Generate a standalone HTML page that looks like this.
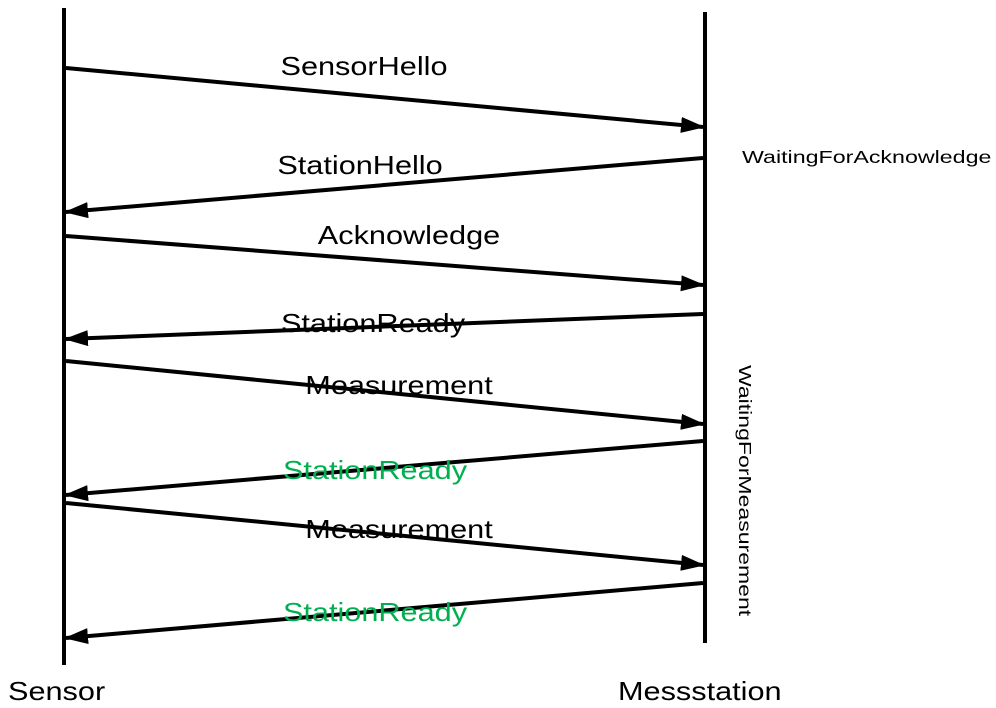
<!DOCTYPE html>
<html><head><meta charset="utf-8"><style>
body{margin:0;background:#fff;}
svg{display:block;font-family:"Liberation Sans",sans-serif;}
</style></head><body>
<svg id="chart" width="996" height="708">
<defs><marker id="ah" markerWidth="24" markerHeight="16" refX="22" refY="8" orient="auto" markerUnits="userSpaceOnUse"><path d="M0,0 L24,8 L0,16 Z" fill="#000"/></marker></defs>
<line x1="64" y1="8" x2="64" y2="665" stroke="#000" stroke-width="4"/>
<line x1="705" y1="12" x2="705" y2="643" stroke="#000" stroke-width="4"/>
<text transform="translate(8,700) scale(1.18,1)" font-size="26">Sensor</text>
<text transform="translate(618,700) scale(1.18,1)" font-size="26">Messstation</text>
<text transform="translate(742,163) scale(1.29,1)" font-size="18">WaitingForAcknowledge</text>
<text transform="translate(739,365) rotate(90) scale(1.28,1)" font-size="18">WaitingForMeasurement</text>
<g id="msgs"></g>
</svg>
<script>
const labels=["SensorHello","StationHello","Acknowledge","StationReady","Measurement","StationReady","Measurement","StationReady"];
const directions=["right","left","right","left","right","left","right","left"];
const startY=[68,158,236,314,361,441,503,583];
const endY=[127,212,285,339,424,495,565,638];
const labelY=[75,174,244,332,394,479,538,621];
const colors=["#000","#000","#000","#000","#000","#00b050","#000","#00b050"];
const g=document.getElementById('msgs');
const NS="http://www.w3.org/2000/svg";
const xS=66,xM=703;
for(let i=0;i<labels.length;i++){
  const r=directions[i]==="right";
  const l=document.createElementNS(NS,'line');
  l.setAttribute('x1',r?xS:xM);l.setAttribute('y1',startY[i]);
  l.setAttribute('x2',r?xM:xS);l.setAttribute('y2',endY[i]);
  l.setAttribute('stroke','#000');l.setAttribute('stroke-width','4');
  l.setAttribute('marker-end','url(#ah)');
  
  
  g.appendChild(l);
  const t=document.createElementNS(NS,'text');
  const cx=[364,360,409,373,399,375,399,375][i];
  t.setAttribute('transform','translate('+cx+','+labelY[i]+') scale(1.18,1)');
  t.setAttribute('text-anchor','middle');t.setAttribute('font-size','26');
  t.setAttribute('fill',colors[i]);t.textContent=labels[i];
  
  
  g.appendChild(t);
}
</script>
</body></html>
